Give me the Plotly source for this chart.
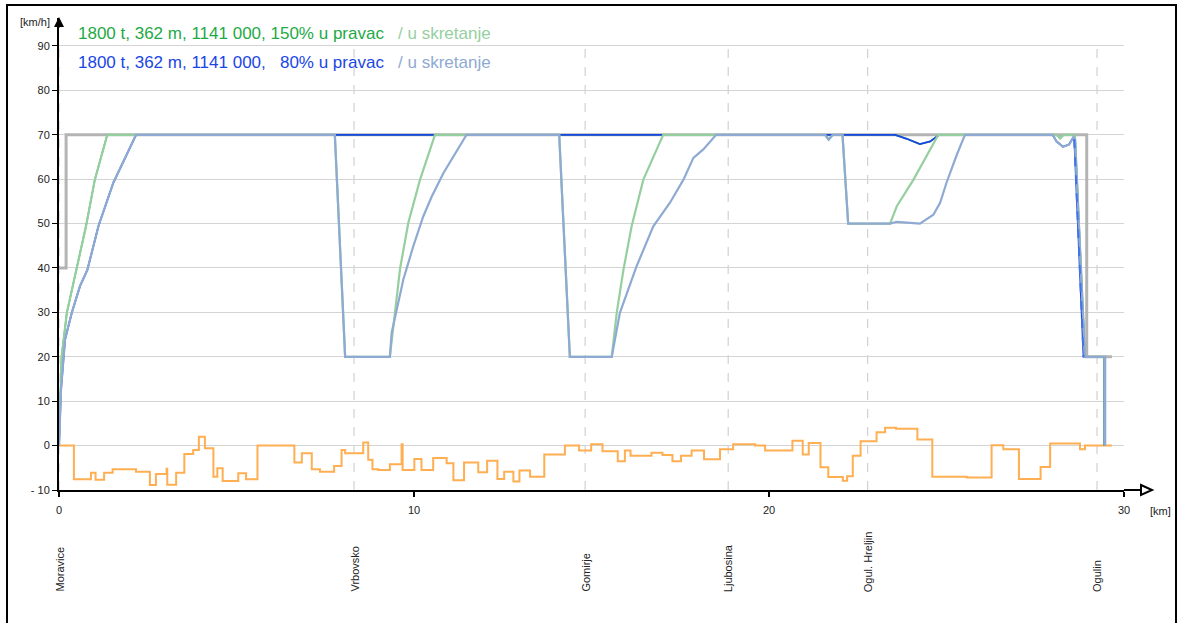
import plotly.graph_objects as go

# -------------------------
# DATA
# -------------------------
stations = ["Moravice", "Vrbovsko", "Gomirje", "Ljubosina", "Ogul. Hreljin", "Ogulin"]
station_km = [0.0, 8.31, 14.82, 18.85, 22.78, 29.24]

# speed limit [km/h]
limit_km = [0, 0.2, 0.2, 28.95, 28.95, 29.66]
limit_v = [40, 40, 70, 70, 20, 20]

# 150 % - straight
green_pravac_km = [0, 0.075, 0.22, 0.48, 0.76, 1.01, 1.36, 23.55, 23.88, 24.25, 24.54, 24.72, 24.8,
                   28.1, 28.2, 28.3, 28.58, 28.62, 28.9, 29.45, 29.45]
green_pravac_v = [0, 20.1, 29.9, 39.6, 49.4, 59.9, 70, 70, 69.1, 67.9, 68.5, 69.6, 70,
                  70, 69.2, 70, 70, 69.5, 20, 20, 0]

# 150 % - into turnout
green_skret_km = [0, 0.075, 0.22, 0.48, 0.76, 1.01, 1.36, 7.77, 8.06, 9.32, 9.46, 9.61, 9.84, 10.17, 10.59,
                  14.09, 14.39, 15.57, 15.71, 15.9, 16.13, 16.46, 17.02, 21.58, 21.68, 21.8, 22.07, 22.23,
                  23.41, 23.6, 24.07, 24.44, 24.77, 28.1, 28.2, 28.3, 28.58, 28.62, 28.9, 29.45, 29.45]
green_skret_v = [0, 20.1, 29.9, 39.6, 49.4, 59.9, 70, 70, 20, 20, 29.9, 40, 50.2, 59.9, 70,
                 70, 20, 20, 29.9, 39.6, 49.4, 59.9, 70, 70, 69.0, 70, 70, 50,
                 50, 53.9, 59.9, 65.2, 70, 70, 69.2, 70, 70, 69.5, 20, 20, 0]

# 80 % - straight
blue_pravac_km = [0, 0.056, 0.17, 0.36, 0.59, 0.8, 1.11, 1.53, 2.17, 23.55, 23.88, 24.25, 24.54, 24.72,
                  24.8, 27.99, 28.1, 28.28, 28.45, 28.58, 28.6, 28.86, 29.44, 29.44]
blue_pravac_v = [0, 12.6, 23.9, 29.9, 35.9, 39.6, 49.4, 59.2, 70, 70, 69.1, 67.9, 68.5, 69.6,
                 70, 70, 68.5, 67.3, 67.8, 69.5, 69, 20, 20, 0]

# 80 % - straight, final braking
blue_brake_km = [28.6, 28.86]
blue_brake_v = [69, 20]

# 80 % - into turnout
blue_skret_km = [0, 0.056, 0.17, 0.36, 0.59, 0.8, 1.11, 1.53, 2.17, 7.77, 8.06, 9.32, 9.37, 9.7, 9.98,
                 10.26, 10.5, 10.83, 11.48, 14.09, 14.39, 15.57, 15.8, 16.27, 16.74, 17.21, 17.59, 17.87,
                 18.15, 18.51, 21.58, 21.68, 21.8, 22.07, 22.23, 23.41, 23.6, 23.9, 24.25, 24.63, 24.82,
                 25.0, 25.29, 25.52, 27.99, 28.1, 28.28, 28.45, 28.58, 28.62, 28.9, 29.47, 29.47]
blue_skret_v = [0, 12.6, 23.9, 29.9, 35.9, 39.6, 49.4, 59.2, 70, 70, 20, 20, 25.4, 37.4, 44.9,
                51.6, 56.1, 61.4, 70, 70, 20, 20, 29.9, 40.4, 49.4, 54.7, 59.9, 64.8,
                66.7, 70, 70, 68.9, 70, 70, 50, 50, 50.4, 50.2, 50, 52, 54.7,
                59.2, 65.5, 70, 70, 68.5, 67.3, 67.8, 69.5, 69, 20, 20, 0]

# gradient [promille], step profile
grad_km = [0, 0.42, 0.90, 1.03, 1.27, 1.51, 2.17, 2.56, 2.73, 3.03, 3.05, 3.30, 3.53, 3.78, 3.94, 4.11,
           4.35, 4.46, 4.61, 5.05, 5.27, 5.59, 6.63, 6.84, 7.12, 7.35, 7.75, 7.96, 8.06, 8.57, 8.71,
           8.83, 8.99, 9.32, 9.65, 9.68, 10.01, 10.21, 10.54, 10.92, 11.11, 11.41, 11.81, 12.06, 12.35,
           12.54, 12.80, 12.97, 13.27, 13.67, 14.25, 14.65, 14.99, 15.31, 15.74, 15.94, 16.10, 16.69,
           17.00, 17.28, 17.52, 17.82, 18.17, 18.62, 18.99, 19.61, 19.89, 20.66, 20.95, 21.12, 21.45,
           21.67, 22.08, 22.20, 22.36, 22.58, 23.03, 23.27, 23.58, 24.18, 24.60, 25.57, 26.27, 26.60,
           27.04, 27.65, 27.92, 28.76, 28.90, 29.66]
grad_v = [0, -7.6, -6.1, -7.7, -6.1, -5.3, -5.9, -8.9, -6.4, -5.2, -8.8, -6.1, -1.9, -1.0, 2.0, -0.6,
          -7.0, -5.1, -8.0, -6.2, -7.6, 0.0, -3.8, -1.7, -5.3, -5.9, -4.6, -1.0, -1.7, 0.7, -3.2,
          -5.3, -5.5, -4.2, 0.3, -5.5, -3.0, -5.5, -2.8, -4.0, -7.8, -3.8, -6.0, -3.4, -7.5,
          -5.9, -8.1, -5.6, -7.0, -2.0, 0.0, -1.1, 0.3, -1.3, -3.5, -1.1, -2.3, -1.6,
          -2.1, -3.5, -2.3, -1.1, -3.1, -0.8, 0.3, 0.0, -1.1, 1.1, -2.0, 0.6, -4.9,
          -7.1, -7.9, -6.9, -2.3, 1.0, 3.0, 4.0, 3.8, 1.4, -7.0, -7.2, 0.1, -0.8,
          -7.5, -4.8, 0.5, -0.8, 0.0, 0.0]

y_ticks = [-10, 0, 10, 20, 30, 40, 50, 60, 70, 80, 90]
y_ticktext = ["- 10", "0", "10", "20", "30", "40", "50", "60", "70", "80", "90"]
x_ticks = [0, 10, 20, 30]

# -------------------------
# COLOURS
# -------------------------
GRAY = "#b4b4b4"
GREEN = "#1eaa46"
GREEN_L = "#96cf9f"
BLUE = "#1a46e6"
BLUE_L = "#8eaad2"
ORANGE = "#ffae52"
FONT = "Liberation Sans, Arial, sans-serif"

# plot area in pixels (for paper coordinates of decorations)
L, R, T, B = 59, 1124, 18, 490


def px(x):
    return (x - L) / (R - L)


def py(y):
    return (B - y) / (B - T)


fig = go.Figure()

fig.add_trace(go.Scatter(x=limit_km, y=limit_v, mode="lines", line=dict(color=GRAY, width=3)))
fig.add_trace(go.Scatter(x=grad_km, y=grad_v, mode="lines", line=dict(color=ORANGE, width=2, shape="hv")))
fig.add_trace(go.Scatter(x=green_pravac_km, y=green_pravac_v, mode="lines", line=dict(color=GREEN, width=1.6)))
fig.add_trace(go.Scatter(x=blue_pravac_km, y=blue_pravac_v, mode="lines", line=dict(color=BLUE, width=1.8)))
fig.add_trace(go.Scatter(x=green_skret_km, y=green_skret_v, mode="lines", line=dict(color=GREEN_L, width=2.2)))
fig.add_trace(go.Scatter(x=blue_skret_km, y=blue_skret_v, mode="lines", line=dict(color=BLUE_L, width=2.2)))
fig.add_trace(go.Scatter(x=blue_brake_km, y=blue_brake_v, mode="lines",
                         line=dict(color="#4474ec", width=2, dash="dash")))

# station lines
for km in station_km:
    fig.add_shape(type="line", x0=km, x1=km, y0=-10, y1=90, xref="x", yref="y",
                  line=dict(color="#c8c8c8", width=1, dash="dash"), layer="below")

# x axis arrow (hollow head)
fig.add_shape(type="line", xref="paper", yref="paper", x0=1, x1=px(1142), y0=0, y1=0,
              line=dict(color="black", width=2))
fig.add_shape(type="path", xref="paper", yref="paper",
              path=f"M {px(1141)} {py(485)} L {px(1152)} {py(490)} L {px(1141)} {py(495)} Z",
              fillcolor="white", line=dict(color="black", width=2))

# y axis arrow
fig.add_annotation(x=0, y=py(17), xref="paper", yref="paper", ax=0, ay=12, text="",
                   showarrow=True, arrowhead=2, arrowsize=1, arrowwidth=2, arrowcolor="black")

# outer frame
fig.add_shape(type="rect", xref="paper", yref="paper", x0=px(7), x1=px(1176), y0=py(650), y1=py(5),
              line=dict(color="black", width=2))

# unit labels
fig.add_annotation(x=px(35), y=py(22), xref="paper", yref="paper", text="[km/h]", showarrow=False,
                   xanchor="center", yanchor="middle", font=dict(size=11, color="#222", family=FONT))
fig.add_annotation(x=px(1160), y=py(511), xref="paper", yref="paper", text="[km]", showarrow=False,
                   xanchor="center", yanchor="middle", font=dict(size=11, color="#222", family=FONT))

# legend text
sp = "\u00a0"
fig.add_annotation(
    x=px(76), y=py(33), xref="paper", yref="paper", xanchor="left", yanchor="middle", showarrow=False,
    text=f"<span style='color:{GREEN}'>1800 t, 362 m, 1141 000, 150% u pravac</span>"
         f"<span style='color:{GREEN_L}'>{sp}{sp}{sp}/ u skretanje</span>",
    font=dict(size=17, family=FONT))
fig.add_annotation(
    x=px(76), y=py(63), xref="paper", yref="paper", xanchor="left", yanchor="middle", showarrow=False,
    text=f"<span style='color:{BLUE}'>1800 t, 362 m, 1141 000,{sp}{sp}{sp}80% u pravac</span>"
         f"<span style='color:{BLUE_L}'>{sp}{sp}{sp}/ u skretanje</span>",
    font=dict(size=17, family=FONT))

# station names
for name, km in zip(stations, station_km):
    fig.add_annotation(x=km, y=py(594), xref="x", yref="paper", text=name, textangle=-90,
                       xanchor="center", yanchor="bottom", showarrow=False,
                       font=dict(size=11, color="#222", family=FONT))

fig.update_layout(
    width=1178,
    height=623,
    margin=dict(l=L, r=1178 - R, t=T, b=623 - B),
    paper_bgcolor="white",
    plot_bgcolor="white",
    showlegend=False,
    font=dict(family=FONT, size=11, color="#222"),
    xaxis=dict(range=[0, 30], tickvals=x_ticks, showgrid=False, zeroline=False,
               showline=True, linecolor="black", linewidth=2, ticks="outside", ticklen=5,
               tickcolor="black", tickwidth=2, ticklabelstandoff=4, tickfont=dict(size=11, color="#222")),
    yaxis=dict(range=[-10, 90 + (46 - T) / ((446 - 135) / 70)], tickvals=y_ticks, ticktext=y_ticktext,
               showgrid=True, gridcolor="#d4d4d4", gridwidth=1, zeroline=False,
               showline=True, linecolor="black", linewidth=2, ticks="outside", ticklen=5,
               tickcolor="black", tickwidth=1, tickfont=dict(size=11, color="#222")),
)

fig.write_html("out.html", config={"displayModeBar": False},
               post_script="document.body.style.margin='0';")
